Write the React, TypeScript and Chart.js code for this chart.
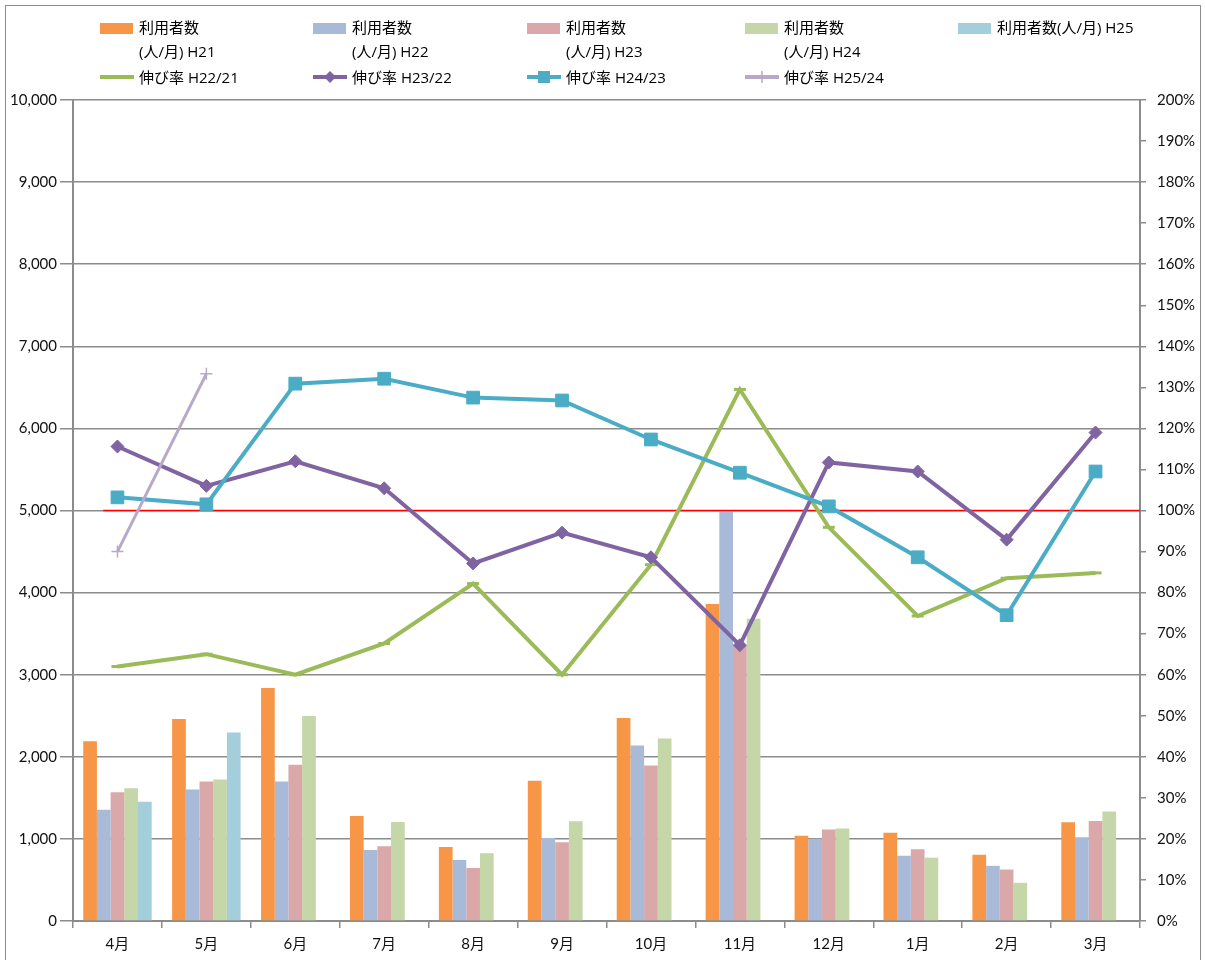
import React, { useEffect, useRef } from 'react';
import { Chart, registerables } from 'chart.js';

Chart.register(...registerables);

const months = ['4月', '5月', '6月', '7月', '8月', '9月', '10月', '11月', '12月', '1月', '2月', '3月'];

const usersH21 = [2190, 2460, 2837, 1280, 902, 1707, 2472, 3860, 1037, 1074, 807, 1204];
const usersH22 = [1354, 1602, 1699, 866, 744, 1012, 2138, 4990, 1001, 794, 672, 1019];
const usersH23 = [1569, 1699, 1902, 911, 646, 959, 1894, 3360, 1114, 875, 627, 1218];
const usersH24 = [1618, 1724, 2496, 1207, 825, 1215, 2224, 3680, 1128, 771, 465, 1335];
const usersH25 = [1451, 2297, null, null, null, null, null, null, null, null, null, null];

const growthH22_21 = [62, 65, 60, 67.6, 82.2, 60, 86.8, 129.5, 95.9, 74.3, 83.5, 84.8];
const growthH23_22 = [115.6, 106, 112, 105.4, 87.1, 94.6, 88.6, 67.2, 111.7, 109.5, 92.9, 119];
const growthH24_23 = [103.2, 101.5, 130.9, 132.1, 127.5, 126.8, 117.3, 109.2, 101, 88.6, 74.5, 109.5];
const growthH25_24 = [90, 133.3, null, null, null, null, null, null, null, null, null, null];

// 100% reference line: x in category-index units (4月 = 0 ... 3月 = 11)
const refLineX = [-0.16, 11.5];
const refLineY = [100, 100];

const leftAxisMax = 10000;
const leftAxisStep = 1000;
const rightAxisMax = 200;
const rightAxisStep = 10;

const C = {
  orange: '#F79646',
  blue: '#A9B9D8',
  pink: '#DAA8A8',
  green: '#C5D6A8',
  cyan: '#A5CEDD',
  lGreen: '#9BBB59',
  lPurple: '#8064A2',
  lCyan: '#4BACC6',
  lLav: '#B7A9C9',
  red: '#FF0000',
  grid: '#8C8C8C',
};

const FONT = "Lato, 'Noto Sans CJK JP', sans-serif";
const LEGEND_FONT = "'Open Sans', 'Noto Sans CJK JP', sans-serif";

type LegendItem = { col: number; kind: 'bar' | 'line'; color: string; lines: string[]; marker?: string };

const legendItems: LegendItem[] = [
  { col: 0, kind: 'bar', color: C.orange, lines: ['利用者数', '(人/月) H21'] },
  { col: 1, kind: 'bar', color: C.blue, lines: ['利用者数', '(人/月) H22'] },
  { col: 2, kind: 'bar', color: C.pink, lines: ['利用者数', '(人/月) H23'] },
  { col: 3, kind: 'bar', color: C.green, lines: ['利用者数', '(人/月) H24'] },
  { col: 4, kind: 'bar', color: C.cyan, lines: ['利用者数(人/月) H25'] },
  { col: 0, kind: 'line', color: C.lGreen, lines: ['伸び率 H22/21'], marker: 'none' },
  { col: 1, kind: 'line', color: C.lPurple, lines: ['伸び率 H23/22'], marker: 'diamond' },
  { col: 2, kind: 'line', color: C.lCyan, lines: ['伸び率 H24/23'], marker: 'square' },
  { col: 3, kind: 'line', color: C.lLav, lines: ['伸び率 H25/24'], marker: 'cross' },
];

const colX = [100, 313, 527, 745, 958];

function Swatch({ item }: { item: LegendItem }) {
  if (item.kind === 'bar') {
    return <div style={{ position: 'absolute', left: 0, top: 8, width: 33, height: 11, background: item.color }} />;
  }
  const c = item.color;
  return (
    <svg width={34} height={14} style={{ position: 'absolute', left: 0, top: 5 }}>
      <line x1={0} y1={7} x2={34} y2={7} stroke={c} strokeWidth={4} />
      {item.marker === 'diamond' && <polygon points="17,1 23,7 17,13 11,7" fill={c} />}
      {item.marker === 'square' && <rect x={11} y={1} width={12} height={12} fill={c} />}
      {item.marker === 'cross' && <line x1={17} y1={1} x2={17} y2={13} stroke={c} strokeWidth={1.5} />}
    </svg>
  );
}

function Legend() {
  return (
    <>
      {legendItems.map((it, i) => (
        <div
          key={i}
          style={{
            position: 'absolute',
            left: colX[it.col],
            top: it.kind === 'bar' ? 15 : 65,
            fontFamily: LEGEND_FONT,
            fontSize: 15,
            lineHeight: '24px',
            color: '#000',
            whiteSpace: 'nowrap',
          }}
        >
          <Swatch item={it} />
          <div style={{ marginLeft: 39 }}>
            {it.lines.map((l, j) => (
              <div key={j}>{l}</div>
            ))}
          </div>
        </div>
      ))}
    </>
  );
}

export default function App() {
  const ref = useRef<HTMLCanvasElement>(null);

  useEffect(() => {
    const canvas = ref.current;
    if (!canvas) return;
    const barCommon = { borderWidth: 0, categoryPercentage: 0.77, barPercentage: 1, order: 10, yAxisID: 'y' };
    const lineCommon = { type: 'line' as const, yAxisID: 'y1', borderWidth: 4, spanGaps: false, tension: 0 };
    const chart = new Chart(canvas, {
      type: 'bar',
      data: {
        labels: months,
        datasets: [
          { ...barCommon, label: '利用者数(人/月) H21', data: usersH21, backgroundColor: C.orange },
          { ...barCommon, label: '利用者数(人/月) H22', data: usersH22, backgroundColor: C.blue },
          { ...barCommon, label: '利用者数(人/月) H23', data: usersH23, backgroundColor: C.pink },
          { ...barCommon, label: '利用者数(人/月) H24', data: usersH24, backgroundColor: C.green },
          { ...barCommon, label: '利用者数(人/月) H25', data: usersH25, backgroundColor: C.cyan },
          {
            type: 'line',
            label: '100%',
            parsing: false,
            data: refLineX.map((x, i) => ({ x, y: refLineY[i] })),
            yAxisID: 'y1',
            borderColor: C.red,
            borderWidth: 1.5,
            pointRadius: 0,
            order: 6,
          } as any,
          {
            ...lineCommon,
            label: '伸び率 H22/21',
            data: growthH22_21,
            borderColor: C.lGreen,
            backgroundColor: C.lGreen,
            pointStyle: 'line',
            pointRadius: 6,
            pointBorderWidth: 3,
            pointBorderColor: C.lGreen,
            order: 5,
          },
          {
            ...lineCommon,
            label: '伸び率 H23/22',
            data: growthH23_22,
            borderColor: C.lPurple,
            backgroundColor: C.lPurple,
            pointStyle: 'rectRot',
            pointRadius: 6.5,
            pointBorderWidth: 1,
            order: 4,
          },
          {
            ...lineCommon,
            label: '伸び率 H24/23',
            data: growthH24_23,
            borderColor: C.lCyan,
            backgroundColor: C.lCyan,
            pointStyle: 'rect',
            pointRadius: 9,
            pointBorderWidth: 1,
            order: 3,
          },
          {
            ...lineCommon,
            label: '伸び率 H25/24',
            data: growthH25_24,
            borderColor: C.lLav,
            backgroundColor: C.lLav,
            borderWidth: 3,
            pointStyle: 'cross',
            pointRadius: 6,
            pointBorderWidth: 1.5,
            order: 2,
          },
        ] as any,
      },
      options: {
        responsive: false,
        animation: false,
        devicePixelRatio: 1,
        layout: { padding: { top: 100, left: 0, right: 0, bottom: 0 }, autoPadding: false } as any,
        plugins: { legend: { display: false }, tooltip: { enabled: false } },
        scales: {
          x: {
            type: 'category',
            offset: true,
            grid: { offset: true, drawOnChartArea: false, drawTicks: true, tickLength: 7, color: C.grid, lineWidth: 1.5 },
            border: { display: true, color: C.grid, width: 2 },
            ticks: { font: { family: FONT, size: 15 }, color: '#111', padding: 7, maxRotation: 0 },
            afterFit: (s: any) => { s.height = 39; },
          },
          y: {
            position: 'left',
            min: 0,
            max: leftAxisMax,
            ticks: { stepSize: leftAxisStep, font: { family: FONT, size: 15 }, color: '#111', padding: 3 },
            grid: { color: C.grid, lineWidth: 1.5, tickLength: 13 },
            border: { display: true, color: C.grid, width: 2 },
            afterFit: (s: any) => { s.width = 73; },
          },
          y1: {
            position: 'right',
            min: 0,
            max: rightAxisMax,
            ticks: { stepSize: rightAxisStep, font: { family: FONT, size: 15 }, color: '#111', padding: 11, callback: (v: any) => v + '%' },
            grid: { drawOnChartArea: false, color: C.grid, lineWidth: 1.5, tickLength: 6 },
            border: { display: true, color: C.grid, width: 2 },
            afterFit: (s: any) => { s.width = 65; },
          },
        },
      } as any,
    });
    return () => chart.destroy();
  }, []);

  return (
    <div style={{ position: 'absolute', left: 0, top: 0, width: 1205, height: 960, overflow: 'hidden', background: '#fff' }}>
      <div style={{ position: 'absolute', left: 5, top: 5, width: 1196, height: 970, border: '1px solid #8C8C8C', boxSizing: 'border-box' }} />
      <canvas ref={ref} width={1205} height={960} style={{ position: 'absolute', left: 0, top: 0 }} />
      <Legend />
    </div>
  );
}
